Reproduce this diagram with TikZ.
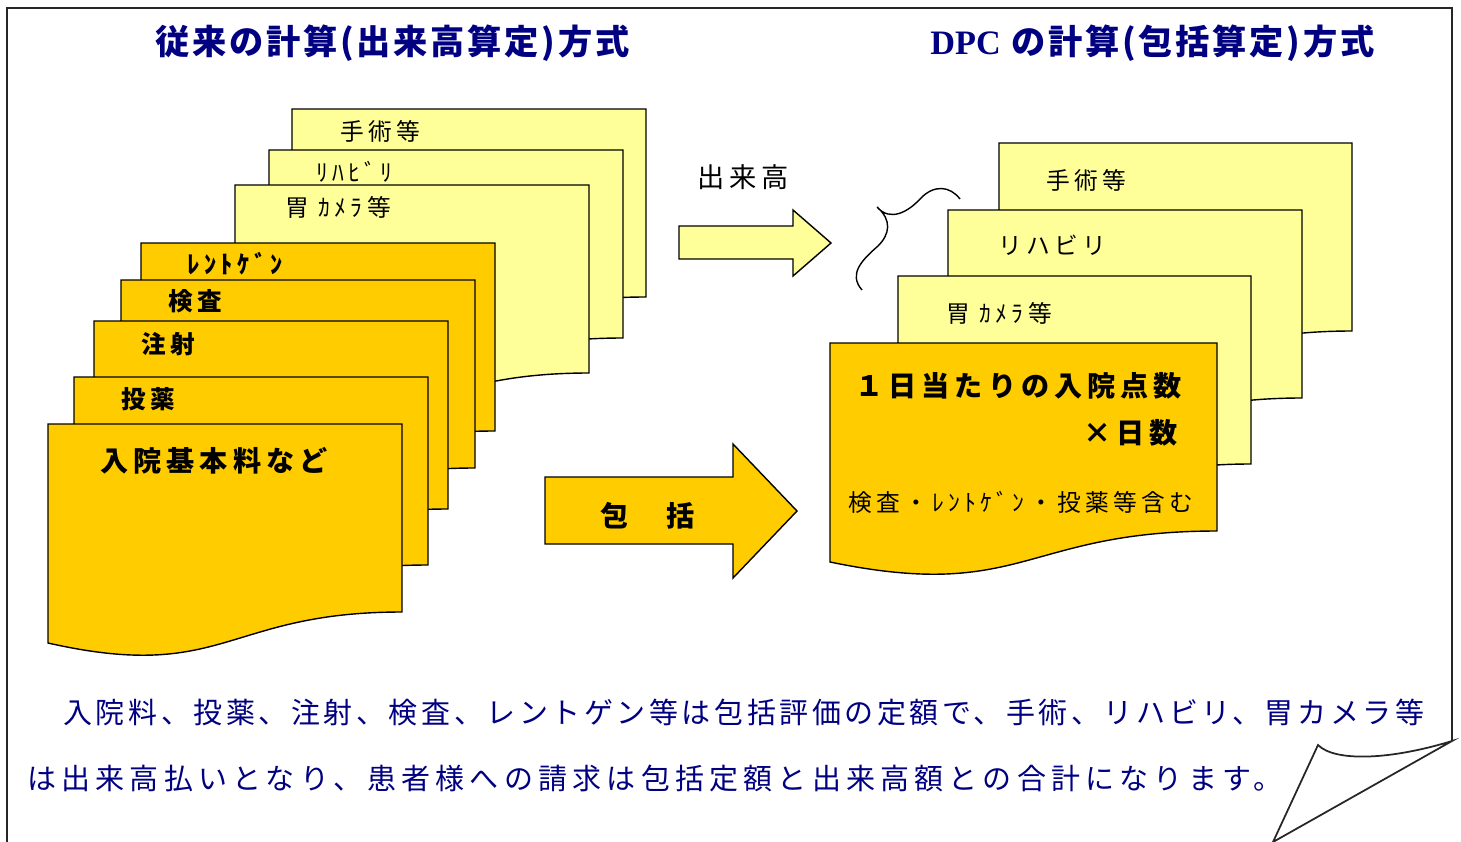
\documentclass[tikz,border=0pt]{standalone}
\usepackage{fontspec}
\setmainfont{Noto Sans CJK JP}
\newfontfamily\jpfont{Noto Sans CJK JP}
\newfontfamily\jpwide[LetterSpace=18]{Noto Sans CJK JP}
\newfontfamily\jpnote[LetterSpace=12.3]{Noto Sans CJK JP}
\newfontfamily\jptitle[LetterSpace=8]{Noto Sans CJK JP}
\newfontfamily\dpcfont{Liberation Serif}
\usepackage{tikz}

\definecolor{paleyellow}{RGB}{255,255,153}
\definecolor{gold}{RGB}{255,204,0}
\definecolor{navy}{RGB}{0,0,128}

% one sheet: left, top, width, fill
\newcommand{\docsheet}[4]{%
  \filldraw[sheet, fill=#4] (#1,#2) -- (#1+#3,#2) -- (#1+#3,#2+188)
    .. controls (#1+#3/2,#2+188) and (#1+#3/2,#2+259) .. (#1,#2+219) -- cycle;}

\begin{document}
\begin{tikzpicture}[
        x=0.02cm, y=-0.02cm,
        sheet/.style={draw = black, line width = 0.8pt},
        title/.style={
            anchor = west, inner sep = 0pt, text = navy, font = \jptitle\bfseries\fontsize{19.5}{22}\selectfont
        },
        tag/.style={
            anchor = west, inner sep = 0pt, font = \jpwide\fontsize{13.5}{15}\selectfont
        },
        boldtag/.style={
            anchor = west, inner sep = 0pt, font = \jpwide\bfseries\fontsize{14}{16}\selectfont
        },
        bigtag/.style={
            anchor = west, inner sep = 0pt, font = \jpwide\bfseries\fontsize{16}{18}\selectfont
        },
        caption/.style={
            anchor = west, inner sep = 0pt, text = navy, font = \jpwide\fontsize{16.5}{18}\selectfont
        },
    ]
        \useasboundingbox (0,0) rectangle (1461,842);

        % page with the folded corner
        \draw[line width=1pt, black!85] (7,842) -- (7,8) -- (1452,8) -- (1452,741);
        \draw[line width=1pt, black!85, fill=white] (1452,741) .. controls (1390,760) and (1335,762) .. (1318,745) -- (1273,842) -- cycle;

        \node (oldTitle) [title] at (155,43) {従来の計算(出来高算定)方式};
        \node (dpcTitle) [title] at (930,43) {{\dpcfont\bfseries DPC} の計算(包括算定)方式};

        % fee-for-service stack
        \docsheet{292}{109}{354}{paleyellow}
        \docsheet{269}{150}{354}{paleyellow}
        \docsheet{235}{185}{354}{paleyellow}
        \docsheet{141}{243}{354}{gold}
        \docsheet{121}{280}{354}{gold}
        \docsheet{94}{321}{354}{gold}
        \docsheet{74}{377}{354}{gold}
        \docsheet{48}{424}{354}{gold}
        \node (oldSurgery) [tag] at (340,131) {手術等};
        \node (oldRehab) [tag] at (316,172) {ﾘﾊﾋﾞﾘ};
        \node (oldCamera) [tag] at (285,207) {胃 ｶﾒﾗ等};
        \node (oldXray) [boldtag] at (187,264) {ﾚﾝﾄｹﾞﾝ};
        \node (oldExam) [boldtag] at (168,301) {検査};
        \node (oldInject) [boldtag] at (141,344) {注射};
        \node (oldDrug) [boldtag] at (121,399) {投薬};
        \node (oldBase) [bigtag] at (100,461) {入院基本料など};

        % arrows
        \filldraw[sheet, fill=paleyellow] (679,226) -- (793,226) -- (793,210) -- (831,243) -- (793,276) -- (793,259) -- (679,259) -- cycle;
        \node (feeLabel) [tag, font=\jpwide\fontsize{15.5}{17}\selectfont] at (697,177) {出来高};
        \filldraw[sheet, fill=gold] (545,477) -- (733,477) -- (733,444) -- (797,511) -- (733,578) -- (733,544) -- (545,544) -- cycle;
        \node (bundleLabel) [bigtag] at (600,516) {包　括};

        \draw[line width=0.8pt] (960,199) .. controls (950,186) and (934,184) .. (920,199)
            .. controls (908,212) and (890,222) .. (877,207)
            .. controls (892,220) and (890,234) .. (878,246)
            .. controls (862,260) and (848,274) .. (862,290);

        % DPC stack
        \docsheet{999}{143}{353}{paleyellow}
        \docsheet{948}{210}{354}{paleyellow}
        \docsheet{898}{276}{353}{paleyellow}
        \docsheet{830}{343}{387}{gold}
        \node (dpcSurgery) [tag] at (1046,180) {手術等};
        \node (dpcRehab) [tag] at (998,245) {リハビリ};
        \node (dpcCamera) [tag] at (946,313) {胃 ｶﾒﾗ等};
        \node (dpcDaily) [bigtag] at (855,386) {１日当たりの入院点数};
        \node (dpcDays) [bigtag, anchor=east] at (1178,433) {×日数};
        \node (dpcIncl) [tag] at (848,502) {検査・ﾚﾝﾄｹﾞﾝ・投薬等含む};

        \node (noteA) [caption, font=\jpnote\fontsize{16.5}{18}\selectfont] at (63,712) {入院料、投薬、注射、検査、レントゲン等は包括評価の定額で、手術、リハビリ、胃カメラ等};
        \node (noteB) [caption] at (27,778) {は出来高払いとなり、患者様への請求は包括定額と出来高額との合計になります。};
    \end{tikzpicture}
\end{document}
